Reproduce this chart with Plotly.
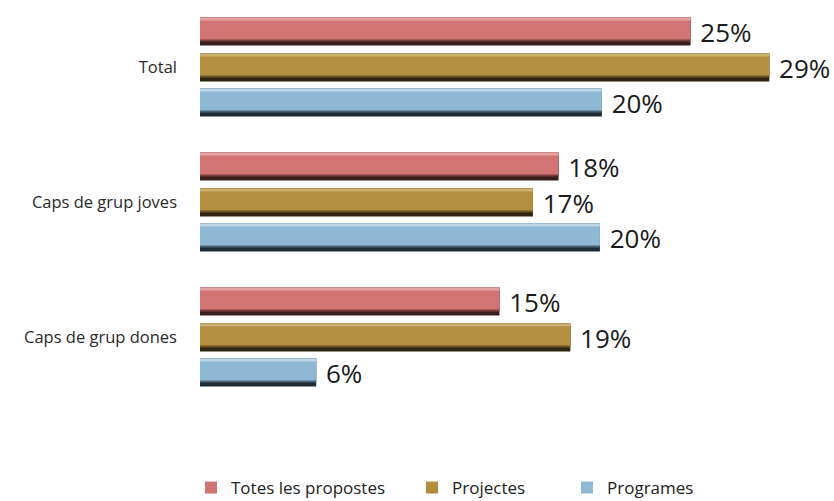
import plotly.graph_objects as go

categories = ["Total", "Caps de grup joves", "Caps de grup dones"]
series_names = ["Totes les propostes", "Projectes", "Programes"]
totes = [24.9, 18.2, 15.2]
projectes = [28.9, 16.9, 18.8]
programes = [20.4, 20.3, 5.9]

values = [totes, projectes, programes]
main_colors = ["#D37474", "#B38F3F", "#8FB8D4"]
light_colors = ["#E3A3A3", "#CBAF70", "#B9D5E7"]
mid_dark_colors = ["#7A3F3F", "#6B5426", "#4A6577"]
dark_colors = ["#3A1D1D", "#2F2510", "#1F2B33"]
legend_ids = ["legend", "legend2", "legend3"]
legend_left_px = [191, 412, 567]

UNIT = 135.0  # px per category
bar_h = 28 / UNIT
starts = [-50 / UNIT, -14 / UNIT, 21 / UNIT]
PLOT_L, PLOT_W = 200, 634
W, H = 834, 501

fig = go.Figure()
for i, name in enumerate(series_names):
    fig.add_trace(go.Bar(
        y=categories, x=values[i], orientation="h",
        width=bar_h, offset=starts[i],
        marker=dict(color=dark_colors[i], line=dict(width=0)),
        texttemplate=" %{x:.0f}%", textposition="outside", constraintext="none",
        textfont=dict(size=26, color="#1a1a1a", family="Open Sans"),
        cliponaxis=False, showlegend=False, hoverinfo="skip",
    ))
    fig.add_trace(go.Bar(
        y=categories, x=values[i], orientation="h",
        width=24 / UNIT, offset=starts[i],
        marker=dict(color=mid_dark_colors[i], line=dict(width=0)),
        showlegend=False, hoverinfo="skip",
    ))
    fig.add_trace(go.Bar(
        y=categories, x=values[i], orientation="h",
        width=22 / UNIT, offset=starts[i],
        marker=dict(color=main_colors[i], line=dict(width=0)),
        name=name, showlegend=True, legend=legend_ids[i],
    ))
    fig.add_trace(go.Bar(
        y=categories, x=values[i], orientation="h",
        width=3 / UNIT, offset=starts[i],
        marker=dict(color=light_colors[i], line=dict(width=0)),
        showlegend=False, hoverinfo="skip",
    ))

legend_common = dict(orientation="h", xanchor="left", xref="container",
                     yref="container", y=1 - 488 / H, yanchor="middle",
                     font=dict(size=17, color="#222222"), itemwidth=30,
                     bgcolor="rgba(0,0,0,0)")
fig.update_layout(
    width=W, height=H,
    margin=dict(l=PLOT_L, r=0, t=0, b=96, autoexpand=False),
    barmode="overlay",
    plot_bgcolor="white", paper_bgcolor="white",
    font=dict(family="Open Sans", color="#222222"),
    xaxis=dict(range=[0, PLOT_W / 19.7], visible=False, showgrid=False, zeroline=False,
               automargin=False),
    yaxis=dict(type="category", categoryorder="array", categoryarray=categories,
               range=[2.5, -0.5], showgrid=False, zeroline=False, showline=False,
               ticks="", tickfont=dict(size=16.5, color="#2a2a2a"),
               ticklabelstandoff=22, automargin=False),
    legend=dict(x=legend_left_px[0] / W, **legend_common),
    legend2=dict(x=legend_left_px[1] / W, **legend_common),
    legend3=dict(x=legend_left_px[2] / W, **legend_common),
    showlegend=True,
)

fig.write_html("out.html", config={"displayModeBar": False},
               post_script="document.body.style.margin='0';document.body.style.overflow='hidden';")
